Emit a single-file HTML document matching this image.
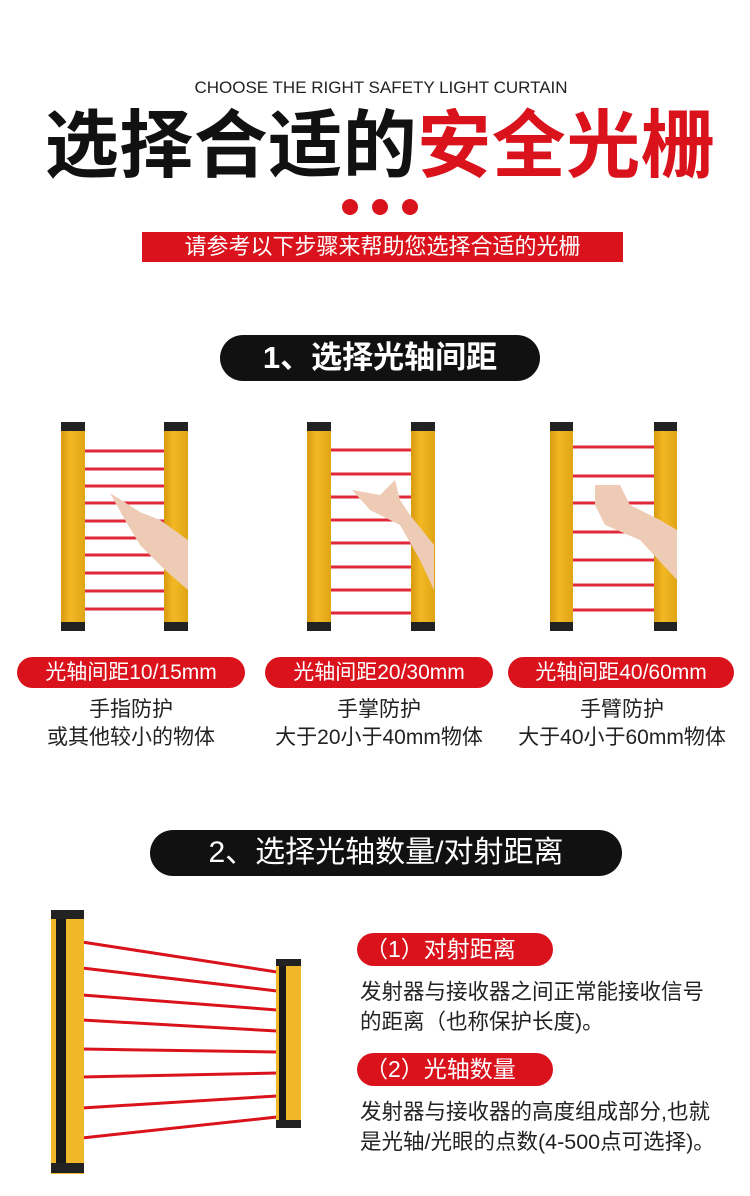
<!DOCTYPE html>
<html><head><meta charset="utf-8"><style>
*{margin:0;padding:0;box-sizing:border-box}
body{width:750px;height:1196px;background:#fff;position:relative;overflow:hidden;font-family:"Liberation Sans","Noto Sans CJK SC",sans-serif}
.a{position:absolute}
.c{text-align:center;white-space:nowrap}
.pill{position:absolute;border-radius:30px;color:#fff;text-align:center;white-space:nowrap}
.t{position:absolute;font-size:21.5px;color:#222;white-space:nowrap}
</style></head><body>
<div class="a c" style="left:0;width:762px;top:78px;font-size:17px;color:#222">CHOOSE THE RIGHT SAFETY LIGHT CURTAIN</div>
<div class="a c" style="left:0;width:760px;top:101px;font-size:74px;font-weight:bold;line-height:90px;letter-spacing:0.5px"><span style="color:#111">选择合适的</span><span style="color:#d9121c">安全光栅</span></div>
<div class="a" style="left:342px;top:199px;width:16px;height:16px;border-radius:50%;background:#d9121c"></div>
<div class="a" style="left:372px;top:199px;width:16px;height:16px;border-radius:50%;background:#d9121c"></div>
<div class="a" style="left:402px;top:199px;width:16px;height:16px;border-radius:50%;background:#d9121c"></div>
<div class="a c" style="left:142px;top:232px;width:481px;height:30px;background:#d9121c;color:#fff;font-size:22px;line-height:30px">请参考以下步骤来帮助您选择合适的光栅</div>
<div class="pill" style="left:220px;top:335px;width:320px;height:46px;background:#111;font-size:31px;font-weight:bold;line-height:46px">1、选择光轴间距</div>

<svg class="a" style="left:0;top:0" width="750" height="1196">
<defs><linearGradient id="y" x1="0" x2="1"><stop offset="0" stop-color="#d99a10"/><stop offset=".4" stop-color="#f2b824"/><stop offset="1" stop-color="#e0a514"/></linearGradient></defs>
<g stroke="#e0283a" stroke-width="3">
<line x1="84" y1="451" x2="165" y2="451"/><line x1="84" y1="469" x2="165" y2="469"/><line x1="84" y1="486" x2="165" y2="486"/><line x1="84" y1="503" x2="165" y2="503"/><line x1="84" y1="521" x2="165" y2="521"/><line x1="84" y1="538" x2="165" y2="538"/><line x1="84" y1="555" x2="165" y2="555"/><line x1="84" y1="573" x2="165" y2="573"/><line x1="84" y1="591" x2="165" y2="591"/><line x1="84" y1="609" x2="165" y2="609"/>
<line x1="330" y1="450" x2="412" y2="450"/><line x1="330" y1="474" x2="412" y2="474"/><line x1="330" y1="497" x2="412" y2="497"/><line x1="330" y1="520" x2="412" y2="520"/><line x1="330" y1="543" x2="412" y2="543"/><line x1="330" y1="567" x2="412" y2="567"/><line x1="330" y1="590" x2="412" y2="590"/><line x1="330" y1="613" x2="412" y2="613"/>
<line x1="573" y1="447" x2="655" y2="447"/><line x1="573" y1="476" x2="655" y2="476"/><line x1="573" y1="503" x2="655" y2="503"/><line x1="573" y1="532" x2="655" y2="532"/><line x1="573" y1="560" x2="655" y2="560"/><line x1="573" y1="585" x2="655" y2="585"/><line x1="573" y1="610" x2="655" y2="610"/>
</g>
<g>
<rect x="61" y="422" width="24" height="208" fill="url(#y)"/><rect x="61" y="422" width="24" height="9" fill="#222"/><rect x="61" y="622" width="24" height="9" fill="#222"/>
<rect x="164" y="422" width="24" height="208" fill="url(#y)"/><rect x="164" y="422" width="24" height="9" fill="#222"/><rect x="164" y="622" width="24" height="9" fill="#222"/>
<rect x="307" y="422" width="24" height="208" fill="url(#y)"/><rect x="307" y="422" width="24" height="9" fill="#222"/><rect x="307" y="622" width="24" height="9" fill="#222"/>
<rect x="411" y="422" width="24" height="208" fill="url(#y)"/><rect x="411" y="422" width="24" height="9" fill="#222"/><rect x="411" y="622" width="24" height="9" fill="#222"/>
<rect x="550" y="422" width="23" height="208" fill="url(#y)"/><rect x="550" y="422" width="23" height="9" fill="#222"/><rect x="550" y="622" width="23" height="9" fill="#222"/>
<rect x="654" y="422" width="23" height="208" fill="url(#y)"/><rect x="654" y="422" width="23" height="9" fill="#222"/><rect x="654" y="622" width="23" height="9" fill="#222"/>
</g>
<g fill="#eecbb4">
<path d="M110 493 L140 512 L160 520 L188 540 L188 590 L165 570 L140 545 L125 520 Z"/>
<path d="M352 490 L380 495 L395 480 L400 500 L410 515 L434 545 L434 590 L420 560 L400 525 L370 510 Z"/>
<path d="M595 485 L620 485 L630 505 L660 520 L677 530 L677 580 L640 540 L605 525 L595 505 Z"/>
</g>
<g stroke="#d9121c" stroke-width="3">
<line x1="82" y1="942" x2="277" y2="972"/><line x1="82" y1="968" x2="277" y2="991"/><line x1="82" y1="995" x2="277" y2="1010"/><line x1="82" y1="1020" x2="277" y2="1031"/><line x1="82" y1="1049" x2="277" y2="1052"/><line x1="82" y1="1077" x2="277" y2="1073"/><line x1="82" y1="1108" x2="277" y2="1096"/><line x1="82" y1="1138" x2="277" y2="1117"/>
</g>
<rect x="51" y="914" width="33" height="260" fill="#f0b828"/><rect x="56" y="918" width="10" height="252" fill="#1a1a1a"/><rect x="51" y="910" width="33" height="9" fill="#222"/><rect x="51" y="1163" width="33" height="10" fill="#222"/>
<rect x="276" y="962" width="25" height="165" fill="#f0b828"/><rect x="279" y="965" width="7" height="158" fill="#1a1a1a"/><rect x="276" y="959" width="25" height="7" fill="#222"/><rect x="276" y="1120" width="25" height="8" fill="#222"/>
</svg>

<div class="pill" style="left:17px;top:657px;width:228px;height:31px;background:#d9121c;font-size:21px;line-height:31px">光轴间距10/15mm</div>
<div class="pill" style="left:265px;top:657px;width:228px;height:31px;background:#d9121c;font-size:21px;line-height:31px">光轴间距20/30mm</div>
<div class="pill" style="left:508px;top:657px;width:226px;height:31px;background:#d9121c;font-size:21px;line-height:31px">光轴间距40/60mm</div>
<div class="a c" style="left:17px;width:228px;top:696px;font-size:21px;line-height:28px;color:#222">手指防护<br>或其他较小的物体</div>
<div class="a c" style="left:252px;width:254px;top:696px;font-size:21px;line-height:28px;color:#222">手掌防护<br>大于20小于40mm物体</div>
<div class="a c" style="left:495px;width:254px;top:696px;font-size:21px;line-height:28px;color:#222">手臂防护<br>大于40小于60mm物体</div>

<div class="pill" style="left:150px;top:830px;width:472px;height:46px;background:#111;font-size:30px;line-height:46px">2、选择光轴数量/对射距离</div>
<div class="pill" style="left:357px;top:933px;width:196px;height:33px;background:#d9121c;font-size:23px;line-height:33px;text-align:left;padding-left:8px">（1）对射距离</div>
<div class="t" style="left:360px;top:977px;line-height:30px">发射器与接收器之间正常能接收信号<br>的距离（也称保护长度)。</div>
<div class="pill" style="left:357px;top:1053px;width:196px;height:33px;background:#d9121c;font-size:23px;line-height:33px;text-align:left;padding-left:8px">（2）光轴数量</div>
<div class="t" style="left:360px;top:1097px;line-height:30px">发射器与接收器的高度组成部分,也就<br>是光轴/光眼的点数(4-500点可选择)。</div>
</body></html>
